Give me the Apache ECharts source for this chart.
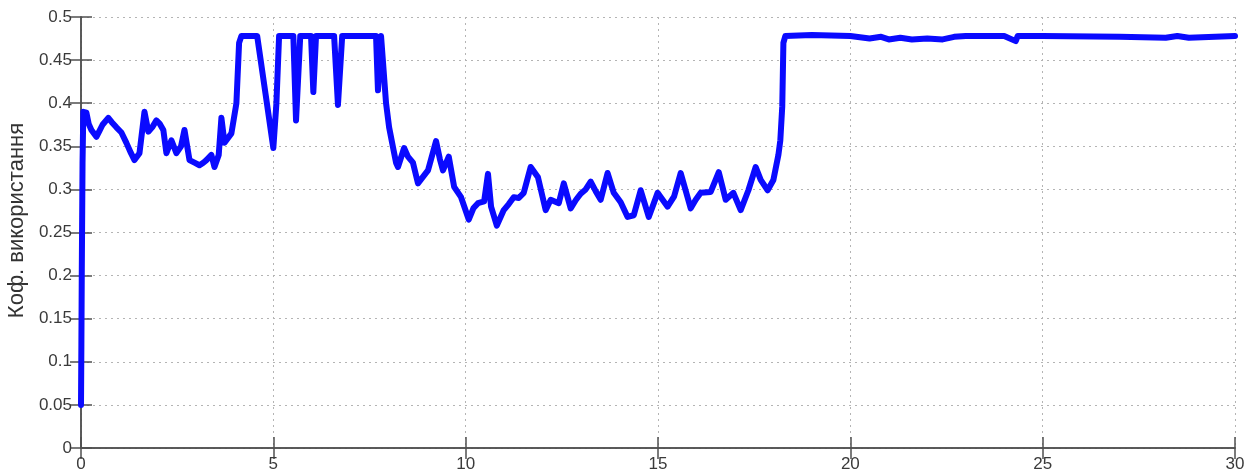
<!DOCTYPE html>
<html>
<head>
<meta charset="utf-8">
<script src="https://cdn.jsdelivr.net/npm/echarts@6/dist/echarts.min.js"></script>
<style>
  html, body { margin: 0; padding: 0; background: #fff; }
  #chart { width: 1257px; height: 475px; }
</style>
</head>
<body>
<div id="chart"></div>
<script>
// Time axis (s) and utilisation coefficient samples
const times = [
  0.00, 0.01, 0.02, 0.04, 0.06, 0.14, 0.20, 0.27, 0.40, 0.48, 0.56, 0.71, 0.80, 0.92, 1.05, 1.18, 1.30, 1.39, 1.52, 1.65, 1.75,
  1.85, 1.96, 2.05, 2.14, 2.22, 2.35, 2.48, 2.60, 2.69, 2.82, 2.95, 3.08, 3.18, 3.26, 3.39, 3.47, 3.58, 3.65, 3.73, 3.91, 4.04, 4.11,
  4.17, 4.58, 4.80, 5.00, 5.08, 5.15, 5.52, 5.59, 5.70, 5.98, 6.04, 6.11, 6.58, 6.68, 6.79, 7.67, 7.72,
  7.80, 7.85, 7.93, 8.01, 8.11, 8.19, 8.24, 8.40, 8.50, 8.63, 8.76, 8.90, 9.02, 9.23, 9.33, 9.41, 9.56, 9.70,
  9.88, 10.08, 10.20, 10.32, 10.48, 10.58, 10.66, 10.81, 10.99, 11.12, 11.25, 11.38, 11.51, 11.69, 11.88, 12.08, 12.21,
  12.42, 12.55, 12.73, 12.87, 12.99, 13.12, 13.25, 13.38, 13.51, 13.69, 13.85, 14.03, 14.21, 14.37, 14.55, 14.76, 14.99,
  15.12, 15.25, 15.42, 15.59, 15.85, 15.98, 16.11, 16.37, 16.58, 16.76, 16.96, 17.15, 17.35, 17.54, 17.67, 17.85, 18.00,
  18.13, 18.18, 18.23, 18.26, 18.31, 19.00, 20.00, 20.50, 20.80, 21.00, 21.30, 21.60, 22.00, 22.40,
  22.70, 23.00, 24.00, 24.30, 24.35, 25.00, 27.00, 28.20, 28.50, 28.80, 30.00
];
const usage = [
  0.050, 0.120, 0.200, 0.330, 0.390, 0.389, 0.376, 0.369, 0.361, 0.368, 0.375, 0.383, 0.378, 0.372, 0.366, 0.354, 0.342, 0.334, 0.342, 0.390, 0.367,
  0.372, 0.380, 0.376, 0.369, 0.342, 0.357, 0.342, 0.350, 0.369, 0.334, 0.331, 0.328, 0.331, 0.334, 0.340, 0.326, 0.340, 0.383, 0.354, 0.365, 0.400, 0.470,
  0.478, 0.478, 0.410, 0.348, 0.400, 0.478, 0.478, 0.380, 0.478, 0.478, 0.413, 0.478, 0.478, 0.398, 0.478, 0.478, 0.415,
  0.478, 0.478, 0.400, 0.372, 0.349, 0.331, 0.326, 0.348, 0.338, 0.331, 0.307, 0.315, 0.322, 0.356, 0.335, 0.322, 0.338, 0.303,
  0.291, 0.265, 0.278, 0.284, 0.286, 0.318, 0.280, 0.258, 0.276, 0.283, 0.291, 0.290, 0.296, 0.326, 0.314, 0.276, 0.288,
  0.284, 0.307, 0.278, 0.288, 0.295, 0.300, 0.309, 0.298, 0.288, 0.319, 0.296, 0.285, 0.268, 0.270, 0.299, 0.268, 0.296,
  0.288, 0.280, 0.292, 0.319, 0.278, 0.288, 0.296, 0.297, 0.320, 0.288, 0.296, 0.276, 0.299, 0.326, 0.311, 0.299, 0.311,
  0.340, 0.357, 0.396, 0.470, 0.478, 0.479, 0.478, 0.475, 0.477, 0.474, 0.476, 0.474, 0.475, 0.474,
  0.477, 0.478, 0.478, 0.472, 0.478, 0.478, 0.477, 0.476, 0.478, 0.476, 0.478
];
const xTicks = [0, 5, 10, 15, 20, 25, 30];
const yTicks = [0, 0.05, 0.1, 0.15, 0.2, 0.25, 0.3, 0.35, 0.4, 0.45, 0.5];
const yTitle = 'Коф. використання';

const points = times.map((t, i) => [t, usage[i]]);

const frame = '#505050';
const gridDots = { show: true, lineStyle: { color: '#b4b4b4', width: 1, type: [2, 4] } };
const font = 'Liberation Sans, Arial, sans-serif';

const chart = echarts.init(document.getElementById('chart'), null, { renderer: 'canvas' });
chart.setOption({
  backgroundColor: '#ffffff',
  animation: false,
  grid: { left: 81, right: 22, top: 17, bottom: 27, containLabel: false, outerBoundsMode: 'none' },
  xAxis: [
    {
      type: 'value', min: xTicks[0], max: xTicks[xTicks.length - 1], interval: 5,
      axisLine: { show: true, lineStyle: { color: frame, width: 1.5 } },
      axisTick: { show: true, inside: true, length: 11, lineStyle: { color: frame, width: 1.5 } },
      axisLabel: { color: '#3a3a3a', fontSize: 17, fontFamily: font, margin: 8 },
      splitLine: gridDots
    },
    {
      type: 'value', position: 'top', min: xTicks[0], max: xTicks[xTicks.length - 1], interval: 5,
      axisLine: { show: true, lineStyle: { color: frame, width: 1.5 } },
      axisTick: { show: true, inside: true, length: 11, lineStyle: { color: frame, width: 1.5 } },
      axisLabel: { show: false }, splitLine: { show: false }
    }
  ],
  yAxis: [
    {
      type: 'value', min: yTicks[0], max: yTicks[yTicks.length - 1], interval: 0.05,
      name: yTitle, nameLocation: 'middle', nameGap: 50,
      nameTextStyle: { color: '#333', fontSize: 22, fontFamily: font, padding: [0, 0, 0, 24] },
      axisLine: { show: true, lineStyle: { color: frame, width: 1.5 } },
      axisTick: { show: true, inside: true, length: 11, lineStyle: { color: frame, width: 1.5 } },
      axisLabel: { color: '#3a3a3a', fontSize: 17, fontFamily: font, margin: 9,
                   formatter: v => String(+v.toFixed(2)) },
      splitLine: gridDots
    },
    {
      type: 'value', position: 'right', min: yTicks[0], max: yTicks[yTicks.length - 1], interval: 0.05,
      axisLine: { show: true, lineStyle: { color: frame, width: 1.5 } },
      axisTick: { show: true, inside: true, length: 11, lineStyle: { color: frame, width: 1.5 } },
      axisLabel: { show: false }, splitLine: { show: false }
    }
  ],
  series: [{
    type: 'line',
    data: points,
    showSymbol: false,
    lineStyle: { color: '#0a0aff', width: 6, join: 'round', cap: 'round' },
    itemStyle: { color: '#0a0aff' },
    z: 3
  }]
});
</script>
</body>
</html>
